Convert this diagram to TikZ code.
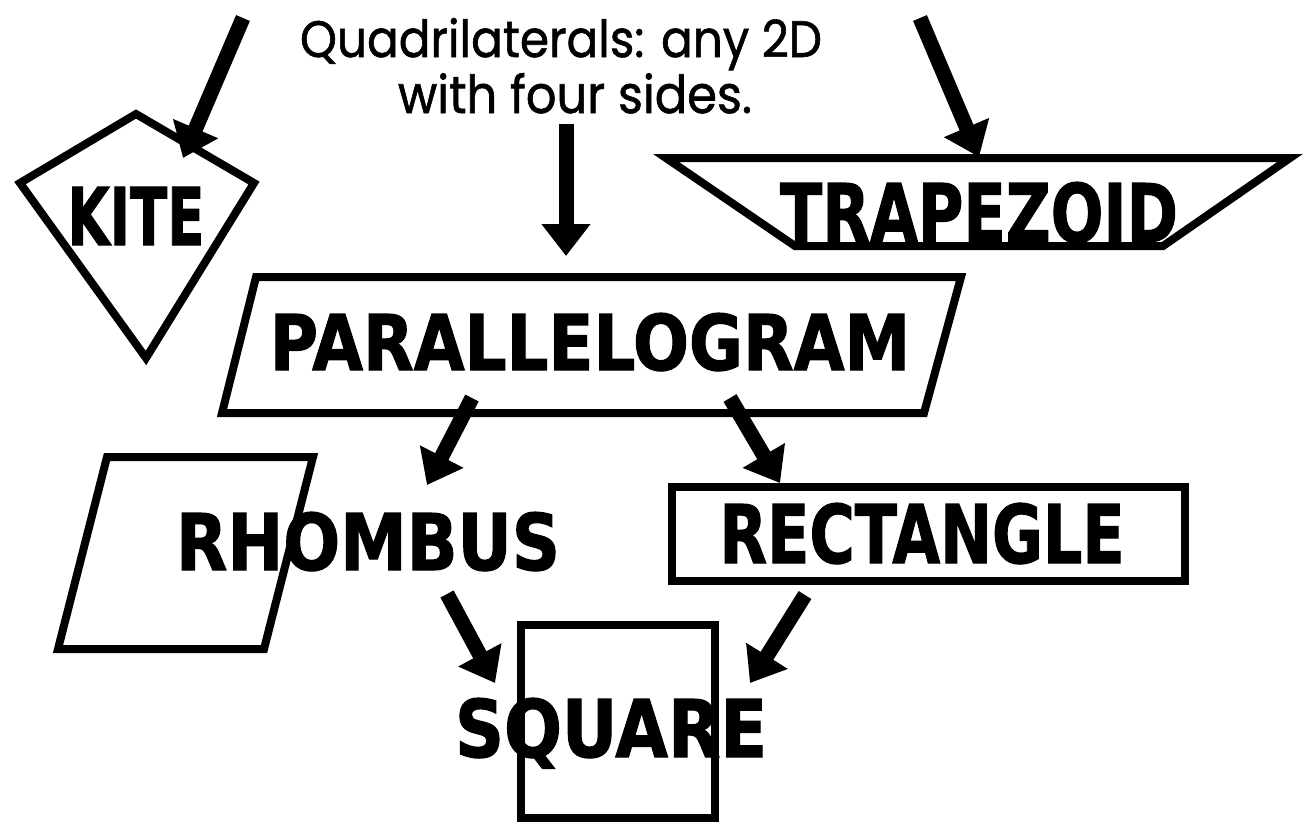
\documentclass[tikz,border=0pt]{standalone}
\usepackage{fontspec}
\usepackage{graphicx}
\setmainfont{Poppins}[FakeBold=1.2]
\newfontfamily\labelfont{DejaVu Sans}[FakeBold=1.5]
\usetikzlibrary{arrows.meta}
\newcommand{\fitlabel}[3]{\resizebox{#1pt}{#2pt}{\labelfont\bfseries #3}}

\begin{document}
\begin{tikzpicture}[x=0.5pt, y=-0.5pt,
    outline/.style={draw, line width=4pt, line join=miter},
    bigarrow/.style={-{Triangle[length=16pt, width=23.5pt]}, line width=7.5pt}]
    \useasboundingbox (0,0) rectangle (1305,827);
    % shapes
    \draw [outline] (136,114) -- (254,183) -- (146,358) -- (20,183) -- cycle;
    \draw [outline] (666,158) -- (1290,158) -- (1163,246) -- (795,246) -- cycle;
    \draw [outline] (256,277) -- (961,277) -- (924,413) -- (222,413) -- cycle;
    \draw [outline] (107,457) -- (313,457) -- (264,649) -- (58,649) -- cycle;
    \draw [outline] (672,487) rectangle (1185,581);
    \draw [outline] (521,625) rectangle (715,818);
    % labels
    \node (title-a) [anchor=base] at (561,57) {\resizebox{261pt}{19.5pt}{Quadrilaterals: any 2D}};
    \node (title-b) [anchor=base] at (575,113) {\resizebox{177pt}{20pt}{with four sides.}};
    \node (kite) [anchor=base] at (136,245) {\fitlabel{68.5}{29}{KITE}};
    \node (trapezoid) [anchor=base] at (979,242) {\fitlabel{199}{30}{TRAPEZOID}};
    \node (para) [anchor=base] at (590,370) {\fitlabel{320}{28.5}{PARALLELOGRAM}};
    \node (rhombus) [anchor=base] at (368,570) {\fitlabel{192}{29}{RHOMBUS}};
    \node (rect) [anchor=base] at (922,563) {\fitlabel{202.5}{30}{RECTANGLE}};
    \node (square) [anchor=base] at (611,757) {\fitlabel{156}{29.5}{SQUARE}};
    % arrows
    \coordinate (kite-in) at (183,158);
    \coordinate (kite-out) at (243,18);
    \coordinate (para-in) at (566,256);
    \coordinate (para-out) at (566,124);
    \coordinate (trap-in) at (979,157);
    \coordinate (trap-out) at (920,18);
    \coordinate (rhombus-in) at (427,485);
    \coordinate (rhombus-out) at (472,398);
    \coordinate (rect-in) at (780,483);
    \coordinate (rect-out) at (730,398);
    \coordinate (square-in-a) at (495,683);
    \coordinate (square-out-a) at (447,594);
    \coordinate (square-in-b) at (750,683);
    \coordinate (square-out-b) at (805,595);
    \draw [bigarrow] (kite-out) -- (kite-in);
    \draw [bigarrow] (para-out) -- (para-in);
    \draw [bigarrow] (trap-out) -- (trap-in);
    \draw [bigarrow] (rhombus-out) -- (rhombus-in);
    \draw [bigarrow] (rect-out) -- (rect-in);
    \draw [bigarrow] (square-out-a) -- (square-in-a);
    \draw [bigarrow] (square-out-b) -- (square-in-b);
\end{tikzpicture}
\end{document}
